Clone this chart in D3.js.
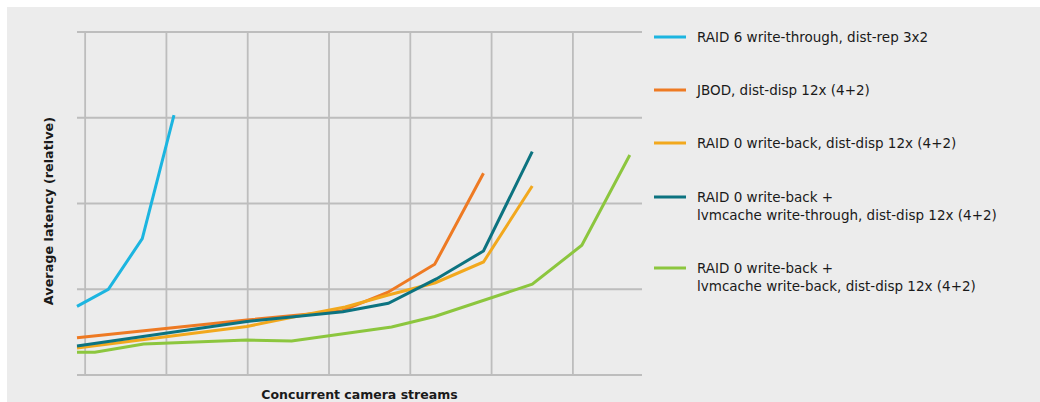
<!DOCTYPE html>
<html>
<head>
<meta charset="utf-8">
<script src="https://cdn.jsdelivr.net/npm/d3@7"></script>
<style>
  html, body { margin: 0; padding: 0; background: #ffffff; }
  svg { display: block; }
  text { font-family: "DejaVu Sans", "Liberation Sans", sans-serif; fill: #1a1a1a; }
</style>
</head>
<body>
<svg id="chart" width="1040" height="402"></svg>
<script>
// ---- Data (x: concurrent camera streams, y: relative average latency) ----
const seriesNames = [
  ["RAID 6 write-through, dist-rep 3x2"],
  ["JBOD, dist-disp 12x (4+2)"],
  ["RAID 0 write-back, dist-disp 12x (4+2)"],
  ["RAID 0 write-back +", "lvmcache write-through, dist-disp 12x (4+2)"],
  ["RAID 0 write-back +", "lvmcache write-back, dist-disp 12x (4+2)"]
];
const seriesColors = ["#1cb5e0", "#ee7a23", "#f2a81d", "#0c7380", "#8cc63e"];

const raid6X = [-1, 2.85, 7.03, 10.93];
const raid6Y = [0.80, 1.00, 1.59, 3.03];

const jbodX = [-1, 19.9, 31.5, 37.2, 43.0, 49.0];
const jbodY = [0.435, 0.641, 0.746, 0.962, 1.291, 2.352];

const raid0X = [-1, 19.9, 25.3, 32.0, 37.3, 43.1, 49.0, 55.0];
const raid0Y = [0.315, 0.566, 0.671, 0.793, 0.933, 1.076, 1.318, 2.204];

const lvmWtX = [-1, 19.9, 31.7, 37.3, 43.2, 49.0, 55.0];
const lvmWtY = [0.338, 0.624, 0.738, 0.836, 1.120, 1.446, 2.604];

const lvmWbX = [-1, 1.2, 7.2, 19.9, 25.4, 37.7, 43.0, 55.0, 61.1, 67.0];
const lvmWbY = [0.265, 0.265, 0.362, 0.408, 0.397, 0.560, 0.682, 1.058, 1.513, 2.566];

const xGridTicks = [0, 10, 20, 30, 40, 50, 60];
const yGridTicks = [0, 1, 2, 3, 4];

const xTitle = "Concurrent camera streams";
const yTitle = "Average latency (relative)";

// ---- Build ----
const seriesX = [raid6X, jbodX, raid0X, lvmWtX, lvmWbX];
const seriesY = [raid6Y, jbodY, raid0Y, lvmWtY, lvmWbY];
const series = seriesNames.map((name, i) => ({
  name, color: seriesColors[i],
  points: seriesX[i].map((x, j) => ({ x, y: seriesY[i][j] }))
}));

const svg = d3.select("#chart");
svg.append("rect").attr("x", 7).attr("y", 7).attr("width", 1033).attr("height", 395).attr("fill", "#ececec");

const plot = { left: 77, right: 642, top: 32, bottom: 375 };
const x = d3.scaleLinear().domain([-1, 68.5]).range([plot.left, plot.right]);
const y = d3.scaleLinear().domain([0, 4]).range([plot.bottom, plot.top]);

const grid = svg.append("g");
grid.selectAll("line.h").data(yGridTicks).join("line")
  .attr("x1", plot.left).attr("x2", plot.right)
  .attr("y1", d => y(d)).attr("y2", d => y(d))
  .attr("stroke", "#bdbdbd").attr("stroke-width", 1.8);
grid.selectAll("line.v").data(xGridTicks).join("line")
  .attr("x1", d => x(d)).attr("x2", d => x(d))
  .attr("y1", plot.top).attr("y2", plot.bottom + 1)
  .attr("stroke", "#bdbdbd").attr("stroke-width", 1.8);

const line = d3.line().x(d => x(d.x)).y(d => y(d.y));
svg.append("g").selectAll("path").data(series).join("path")
  .attr("d", d => line(d.points))
  .attr("fill", "none")
  .attr("stroke", d => d.color)
  .attr("stroke-width", 3)
  .attr("stroke-linejoin", "miter")
  .attr("stroke-linecap", "butt");

// Axis titles
svg.append("text")
  .attr("x", (plot.left + plot.right) / 2).attr("y", 399)
  .attr("text-anchor", "middle")
  .style("font-weight", "bold").style("font-size", "12.5px")
  .text(xTitle);
svg.append("text")
  .attr("transform", `translate(53, 211) rotate(-90)`)
  .attr("text-anchor", "middle")
  .style("font-weight", "bold").style("font-size", "12.8px")
  .text(yTitle);

// Legend
const legendY = [37, 90, 143, 197, 268];
const legend = svg.append("g");
series.forEach((s, i) => {
  const g = legend.append("g").attr("transform", `translate(0, ${legendY[i]})`);
  g.append("line").attr("x1", 654).attr("x2", 686).attr("y1", 0).attr("y2", 0)
    .attr("stroke", s.color).attr("stroke-width", 3);
  s.name.forEach((t, k) => {
    g.append("text").attr("x", 697).attr("y", k * 18).attr("dy", "0.35em")
      .style("font-size", "13.5px").text(t);
  });
});
</script>
</body>
</html>
